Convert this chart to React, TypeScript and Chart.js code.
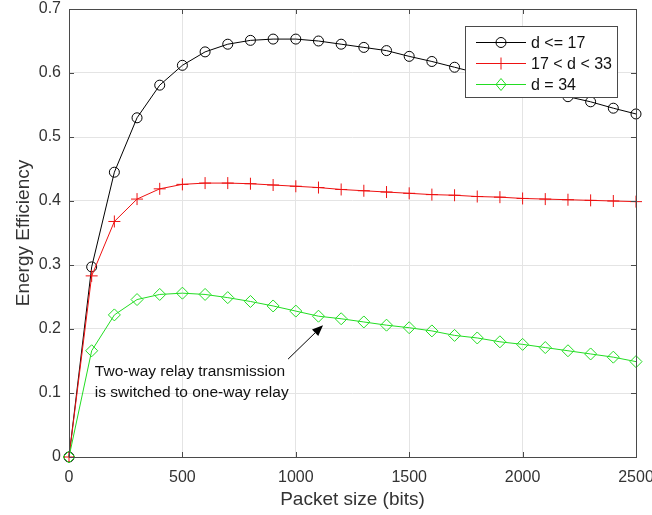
import React, { useEffect, useRef } from "react";
import { Chart, registerables } from "chart.js";

Chart.register(...registerables);

// ---- data ----
const packetSizes = [0, 100, 200, 300, 400, 500, 600, 700, 800, 900, 1000, 1100, 1200, 1300, 1400, 1500, 1600, 1700, 1800, 1900, 2000, 2100, 2200, 2300, 2400, 2500];
const effLow = [0, 0.297, 0.445, 0.530, 0.581, 0.612, 0.633, 0.645, 0.651, 0.653, 0.653, 0.650, 0.645, 0.640, 0.635, 0.626, 0.618, 0.609, 0.600, 0.591, 0.581, 0.572, 0.563, 0.555, 0.545, 0.536];
const effMid = [0, 0.283, 0.368, 0.403, 0.419, 0.426, 0.428, 0.428, 0.427, 0.425, 0.423, 0.421, 0.418, 0.416, 0.414, 0.412, 0.410, 0.409, 0.407, 0.406, 0.404, 0.403, 0.402, 0.401, 0.400, 0.399];
const effFar = [0, 0.166, 0.222, 0.246, 0.254, 0.256, 0.254, 0.249, 0.243, 0.236, 0.228, 0.220, 0.216, 0.211, 0.206, 0.202, 0.197, 0.190, 0.186, 0.180, 0.176, 0.171, 0.166, 0.161, 0.156, 0.149];
const seriesLabels = ["d <= 17", "17 < d < 33", "d = 34"];
const xTicks = [0, 500, 1000, 1500, 2000, 2500];
const yTicks = [0, 0.1, 0.2, 0.3, 0.4, 0.5, 0.6, 0.7];
const xTitle = "Packet size (bits)";
const yTitle = "Energy Efficiency";
const noteLines = ["Two-way relay transmission", "is switched to one-way relay"];
const noteAnchor = { x: 114, y1: 0.126, y2: 0.093 };
const arrowFrom = { x: 966, y: 0.153 };
const arrowTo = { x: 1120, y: 0.206 };

const BLACK = "#000000";
const RED = "#ee1111";
const GREEN = "#22dd22";
const AXIS = "#4a4a4a";
const TEXT = "#333333";
const FONT = "'Liberation Sans', Arial, sans-serif";

function drawMarker(ctx: CanvasRenderingContext2D, kind: string, x: number, y: number, color: string) {
  ctx.save();
  ctx.strokeStyle = color;
  ctx.lineWidth = 1;
  ctx.beginPath();
  if (kind === "circle") {
    ctx.arc(x, y, 5, 0, Math.PI * 2);
  } else if (kind === "cross") {
    ctx.moveTo(x - 6, y); ctx.lineTo(x + 6, y);
    ctx.moveTo(x, y - 6); ctx.lineTo(x, y + 6);
  } else {
    ctx.moveTo(x, y - 6); ctx.lineTo(x + 5, y); ctx.lineTo(x, y + 6); ctx.lineTo(x - 5, y); ctx.closePath();
  }
  ctx.stroke();
  ctx.restore();
}

const framePlugin = {
  id: "matlabFrame",
  afterDatasetsDraw(chart: any) {
    const { ctx, chartArea: a, scales } = chart;
    const xs = scales.x, ys = scales.y;
    ctx.save();
    // box
    ctx.strokeStyle = AXIS;
    ctx.lineWidth = 1;
    ctx.strokeRect(Math.round(a.left) + 0.5, Math.round(a.top) + 0.5, Math.round(a.right - a.left), Math.round(a.bottom - a.top));
    // inward ticks
    ctx.beginPath();
    xTicks.forEach((v) => {
      const px = Math.round(xs.getPixelForValue(v)) + 0.5;
      ctx.moveTo(px, a.bottom); ctx.lineTo(px, a.bottom - 5);
      ctx.moveTo(px, a.top); ctx.lineTo(px, a.top + 5);
    });
    yTicks.forEach((v) => {
      const py = Math.round(ys.getPixelForValue(v)) + 0.5;
      ctx.moveTo(a.left, py); ctx.lineTo(a.left + 5, py);
      ctx.moveTo(a.right, py); ctx.lineTo(a.right - 5, py);
    });
    ctx.stroke();

    // annotation
    ctx.fillStyle = "#111111";
    ctx.font = `15.5px ${FONT}`;
    ctx.textAlign = "left";
    ctx.textBaseline = "alphabetic";
    const tx = xs.getPixelForValue(noteAnchor.x);
    ctx.fillText(noteLines[0], tx, ys.getPixelForValue(noteAnchor.y1));
    ctx.fillText(noteLines[1], tx, ys.getPixelForValue(noteAnchor.y2));
    const x0 = xs.getPixelForValue(arrowFrom.x), y0 = ys.getPixelForValue(arrowFrom.y);
    const x1 = xs.getPixelForValue(arrowTo.x), y1 = ys.getPixelForValue(arrowTo.y);
    const ang = Math.atan2(y1 - y0, x1 - x0);
    const hl = 11, hw = 4.5;
    const bx = x1 - hl * Math.cos(ang), by = y1 - hl * Math.sin(ang);
    ctx.strokeStyle = "#000";
    ctx.lineWidth = 1;
    ctx.beginPath(); ctx.moveTo(x0, y0); ctx.lineTo(bx, by); ctx.stroke();
    ctx.fillStyle = "#000";
    ctx.beginPath();
    ctx.moveTo(x1, y1);
    ctx.lineTo(bx + hw * Math.sin(ang), by - hw * Math.cos(ang));
    ctx.lineTo(bx - hw * Math.sin(ang), by + hw * Math.cos(ang));
    ctx.closePath(); ctx.fill();

    // legend
    const lx = 465, ly = 26, lw = 152, lh = 71;
    ctx.fillStyle = "#ffffff";
    ctx.fillRect(lx, ly, lw, lh);
    ctx.strokeStyle = AXIS;
    ctx.strokeRect(lx + 0.5, ly + 0.5, lw, lh);
    const rows = [
      { c: BLACK, k: "circle" },
      { c: RED, k: "cross" },
      { c: GREEN, k: "diamond" },
    ];
    ctx.font = `16px ${FONT}`;
    ctx.textBaseline = "middle";
    rows.forEach((r, i) => {
      const ry = ly + 16.5 + i * 21;
      ctx.strokeStyle = r.c;
      ctx.lineWidth = 1;
      ctx.beginPath(); ctx.moveTo(476, ry); ctx.lineTo(526, ry); ctx.stroke();
      drawMarker(ctx, r.k, 501, ry, r.c);
      ctx.fillStyle = "#111111";
      ctx.fillText(seriesLabels[i], 531, ry + 1);
    });

    // axis titles
    ctx.fillStyle = TEXT;
    ctx.font = `19px ${FONT}`;
    ctx.textAlign = "center";
    ctx.textBaseline = "middle";
    ctx.fillText(xTitle, (a.left + a.right) / 2, 500);
    ctx.translate(24, (a.top + a.bottom) / 2);
    ctx.rotate(-Math.PI / 2);
    ctx.fillText(yTitle, 0, 0);
    ctx.restore();
  },
};

export default function App() {
  const ref = useRef<HTMLCanvasElement>(null);
  useEffect(() => {
    const mk = (vals: number[]) => packetSizes.map((x, i) => ({ x, y: vals[i] }));
    const chart = new Chart(ref.current!, {
      type: "line",
      data: {
        datasets: [
          { label: seriesLabels[0], data: mk(effLow), borderColor: BLACK, backgroundColor: "transparent", borderWidth: 1, pointStyle: "circle", pointRadius: 5, pointBorderWidth: 1, pointBorderColor: BLACK, pointBackgroundColor: "transparent", clip: false, order: 2 },
          { label: seriesLabels[1], data: mk(effMid), borderColor: RED, backgroundColor: "transparent", borderWidth: 1, pointStyle: "cross", pointRadius: 6, pointBorderWidth: 1, pointBorderColor: RED, clip: false, order: 1 },
          { label: seriesLabels[2], data: mk(effFar), borderColor: GREEN, backgroundColor: "transparent", borderWidth: 1, pointStyle: "rectRot", pointRadius: 6, pointBorderWidth: 1, pointBorderColor: GREEN, pointBackgroundColor: "transparent", clip: false, order: 0 },
        ],
      },
      options: {
        responsive: false,
        animation: false,
        events: [],
        layout: { padding: { left: 0, top: 9, right: 16, bottom: 0 } },
        plugins: { legend: { display: false }, tooltip: { enabled: false } },
        scales: {
          x: {
            type: "linear",
            min: 0,
            max: 2500,
            afterBuildTicks: (s: any) => { s.ticks = xTicks.map((v) => ({ value: v })); },
            afterFit: (s: any) => { s.height = 58; s.paddingLeft = 0; s.paddingRight = 0; },
            grid: { color: "#e4e4e4", lineWidth: 1, drawTicks: false },
            border: { display: false },
            ticks: { padding: 11, color: TEXT, font: { family: FONT, size: 16 }, maxRotation: 0, autoSkip: false, callback: (v: any) => String(v) },
          },
          y: {
            type: "linear",
            min: 0,
            max: 0.7,
            afterBuildTicks: (s: any) => { s.ticks = yTicks.map((v) => ({ value: v })); },
            afterFit: (s: any) => { s.width = 69; s.paddingTop = 0; s.paddingBottom = 0; },
            grid: { color: "#e4e4e4", lineWidth: 1, drawTicks: false },
            border: { display: false },
            ticks: { padding: 8, color: TEXT, font: { family: FONT, size: 16 }, autoSkip: false, callback: (v: any) => String(Math.round(v * 10) / 10) },
          },
        },
      },
      plugins: [framePlugin],
    });
    return () => chart.destroy();
  }, []);
  return (
    <div style={{ position: "fixed", left: 0, top: 0, width: 652, height: 515, background: "#ffffff" }}>
      <canvas ref={ref} width={652} height={515} style={{ display: "block" }} />
    </div>
  );
}
